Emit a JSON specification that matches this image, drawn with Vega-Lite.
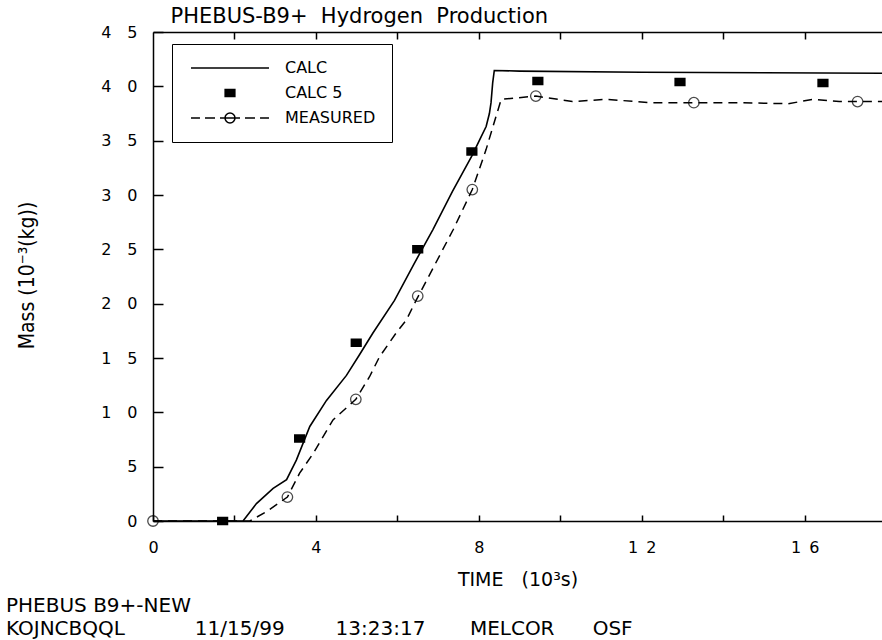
{
  "$schema": "https://vega.github.io/schema/vega-lite/v6.json",
  "width": 729,
  "height": 489,
  "autosize": {"type": "none"},
  "padding": {"left": 153, "top": 32, "right": 0, "bottom": 119},
  "background": "white",
  "config": {
    "view": {"stroke": null},
    "font": "DejaVu Sans",
    "axis": {"grid": false, "domainColor": "black", "domainWidth": 1.5, "tickColor": "black", "tickWidth": 1.5, "labelColor": "black", "titleColor": "black", "titleFontWeight": "normal", "labelFont": "DejaVu Sans", "titleFont": "DejaVu Sans"}
  },
  "title": {
    "text": ["PHEBUS B9+-NEW", "KOJNCBQQL\u00a0\u00a0\u00a0\u00a0\u00a0\u00a0\u00a0\u00a0\u00a0\u00a0\u00a011/15/99\u00a0\u00a0\u00a0\u00a0\u00a0\u00a0\u00a0\u00a013:23:17\u00a0\u00a0\u00a0\u00a0\u00a0\u00a0\u00a0MELCOR\u00a0\u00a0\u00a0\u00a0\u00a0\u00a0OSF"],
    "orient": "bottom", "anchor": "start", "frame": "bounds",
    "fontSize": 20, "fontWeight": "normal", "font": "DejaVu Sans", "color": "black",
    "lineHeight": 23, "offset": 7, "dx": -10
  },
  "datasets": {
    "curves": [
      {"series": "CALC", "x": 0, "y": 0},
      {"series": "CALC", "x": 2.21, "y": 0},
      {"series": "CALC", "x": 2.54, "y": 1.6},
      {"series": "CALC", "x": 2.95, "y": 3.0},
      {"series": "CALC", "x": 3.28, "y": 3.8},
      {"series": "CALC", "x": 3.52, "y": 5.6},
      {"series": "CALC", "x": 3.85, "y": 8.7},
      {"series": "CALC", "x": 4.26, "y": 11.1},
      {"series": "CALC", "x": 4.75, "y": 13.4},
      {"series": "CALC", "x": 5.07, "y": 15.3},
      {"series": "CALC", "x": 5.4, "y": 17.3},
      {"series": "CALC", "x": 5.93, "y": 20.3},
      {"series": "CALC", "x": 6.4, "y": 23.6},
      {"series": "CALC", "x": 6.87, "y": 26.8},
      {"series": "CALC", "x": 7.35, "y": 30.3},
      {"series": "CALC", "x": 7.83, "y": 33.6},
      {"series": "CALC", "x": 8.05, "y": 35.3},
      {"series": "CALC", "x": 8.18, "y": 36.3},
      {"series": "CALC", "x": 8.26, "y": 37.5},
      {"series": "CALC", "x": 8.3, "y": 38.5},
      {"series": "CALC", "x": 8.34, "y": 40.3},
      {"series": "CALC", "x": 8.38, "y": 41.46},
      {"series": "CALC", "x": 9.0, "y": 41.4},
      {"series": "CALC", "x": 12.0, "y": 41.3},
      {"series": "CALC", "x": 15.0, "y": 41.25},
      {"series": "CALC", "x": 17.9, "y": 41.2},
      {"series": "MEASURED", "x": 0, "y": 0},
      {"series": "MEASURED", "x": 2.38, "y": 0},
      {"series": "MEASURED", "x": 2.8, "y": 0.9},
      {"series": "MEASURED", "x": 3.3, "y": 2.2},
      {"series": "MEASURED", "x": 3.6, "y": 4.4},
      {"series": "MEASURED", "x": 3.93, "y": 6.2},
      {"series": "MEASURED", "x": 4.42, "y": 9.3},
      {"series": "MEASURED", "x": 4.98, "y": 11.2},
      {"series": "MEASURED", "x": 5.32, "y": 13.3},
      {"series": "MEASURED", "x": 5.56, "y": 15.1},
      {"series": "MEASURED", "x": 5.97, "y": 17.3},
      {"series": "MEASURED", "x": 6.22, "y": 18.5},
      {"series": "MEASURED", "x": 6.46, "y": 20.3},
      {"series": "MEASURED", "x": 7.37, "y": 26.8},
      {"series": "MEASURED", "x": 7.84, "y": 30.5},
      {"series": "MEASURED", "x": 8.18, "y": 34.2},
      {"series": "MEASURED", "x": 8.42, "y": 37.2},
      {"series": "MEASURED", "x": 8.55, "y": 38.8},
      {"series": "MEASURED", "x": 9.4, "y": 39.1},
      {"series": "MEASURED", "x": 10.3, "y": 38.6},
      {"series": "MEASURED", "x": 11.12, "y": 38.8},
      {"series": "MEASURED", "x": 11.5, "y": 38.7},
      {"series": "MEASURED", "x": 12.18, "y": 38.5},
      {"series": "MEASURED", "x": 13.28, "y": 38.5},
      {"series": "MEASURED", "x": 14.4, "y": 38.5},
      {"series": "MEASURED", "x": 15.6, "y": 38.4},
      {"series": "MEASURED", "x": 16.2, "y": 38.8},
      {"series": "MEASURED", "x": 16.85, "y": 38.6},
      {"series": "MEASURED", "x": 17.3, "y": 38.6},
      {"series": "MEASURED", "x": 17.9, "y": 38.6}
    ],
    "calc5": [
      {"series": "CALC 5", "x": 1.71, "y": 0},
      {"series": "CALC 5", "x": 3.6, "y": 7.6},
      {"series": "CALC 5", "x": 4.99, "y": 16.4},
      {"series": "CALC 5", "x": 6.5, "y": 25.0},
      {"series": "CALC 5", "x": 7.83, "y": 34.0},
      {"series": "CALC 5", "x": 9.45, "y": 40.5},
      {"series": "CALC 5", "x": 12.94, "y": 40.4},
      {"series": "CALC 5", "x": 16.45, "y": 40.3}
    ],
    "measuredPts": [
      {"series": "MEASURED", "x": 0, "y": 0},
      {"series": "MEASURED", "x": 3.3, "y": 2.2},
      {"series": "MEASURED", "x": 4.98, "y": 11.2},
      {"series": "MEASURED", "x": 6.5, "y": 20.7},
      {"series": "MEASURED", "x": 7.84, "y": 30.5},
      {"series": "MEASURED", "x": 9.4, "y": 39.1},
      {"series": "MEASURED", "x": 13.28, "y": 38.5},
      {"series": "MEASURED", "x": 17.3, "y": 38.6}
    ]
  },
  "resolve": {"axis": {"x": "independent"}},
  "layer": [
    {
      "data": {"name": "curves"},
      "transform": [{"filter": "datum.series == 'CALC'"}],
      "mark": {"type": "line", "color": "black", "strokeWidth": 1.6, "clip": true},
      "encoding": {
        "x": {"field": "x", "type": "quantitative", "scale": {"domain": [0, 17.9], "nice": false, "zero": false},
          "axis": {"orient": "bottom", "values": [0, 2, 4, 6, 8, 10, 12, 14, 16], "tickSize": -6, "labelPadding": 24, "labelFontSize": 16, "labelFlush": false,
            "labelExpr": "datum.value % 4 == 0 ? (datum.value >= 10 ? slice(datum.label, 0, 1) + '\u2002' + slice(datum.label, 1) + '\u2003' : datum.label) : ''",
            "title": "TIME\u00a0\u00a0\u00a0(10³s)", "titleFontSize": 19, "titlePadding": 15}},
        "y": {"field": "y", "type": "quantitative", "scale": {"domain": [0, 45], "nice": false},
          "axis": {"values": [0, 5, 10, 15, 20, 25, 30, 35, 40, 45], "tickSize": -10, "labelPadding": 26, "labelFontSize": 16,
            "labelExpr": "datum.value >= 10 ? slice(datum.label, 0, 1) + '\u2003' + slice(datum.label, 1) : datum.label",
            "title": "Mass (10⁻³(kg))", "titleFontSize": 21, "titleFont": "Liberation Sans Narrow, DejaVu Sans Condensed, DejaVu Sans", "titleX": -126, "titleY": 243, "titleAngle": -90, "titleAlign": "center", "titleBaseline": "middle"}}
      }
    },
    {
      "data": {"name": "curves"},
      "transform": [{"filter": "datum.series == 'MEASURED'"}],
      "mark": {"type": "line", "color": "black", "strokeWidth": 1.5, "strokeDash": [9, 6], "clip": true},
      "encoding": {
        "x": {"field": "x", "type": "quantitative",
          "axis": {"orient": "top", "values": [2, 4, 6, 8, 10, 12, 14, 16], "labels": false, "ticks": true, "tickSize": -7,
            "title": "PHEBUS-B9+\u00a0\u00a0Hydrogen\u00a0\u00a0Production", "titleFontSize": 21, "titleAnchor": "start", "titleAlign": "left", "titleBaseline": "alphabetic", "titleX": 17, "titleY": -10}},
        "y": {"field": "y", "type": "quantitative"}
      }
    },
    {
      "data": {"name": "calc5"},
      "mark": {"type": "point", "color": "black", "filled": false, "strokeWidth": 1.5, "size": 196, "opacity": 1},
      "encoding": {
        "x": {"field": "x", "type": "quantitative", "axis": null},
        "y": {"field": "y", "type": "quantitative"},
        "shape": {"field": "series", "type": "nominal",
          "scale": {"domain": ["CALC", "CALC 5", "MEASURED"],
            "range": ["M-5.57,0H5.57",
              "M-0.8,-0.5H0.8M-0.8,-0.3H0.8M-0.8,-0.1H0.8M-0.8,0.1H0.8M-0.8,0.3H0.8M-0.8,0.5H0.8",
              "M-5.57,0H-4.29M-3.57,0H-2.14M-1.43,0H1.43M2.14,0H3.57M4.29,0H5.57M0.71,0A0.71,0.71,0,1,1,-0.71,0A0.71,0.71,0,1,1,0.71,0"]},
          "legend": {"orient": "none", "legendX": 19, "legendY": 12, "title": null, "strokeColor": "black", "fillColor": "white", "padding": 16, "rowPadding": 9,
            "symbolOffset": 34, "labelOffset": 47, "symbolSize": 196, "symbolStrokeWidth": 1.5, "symbolStrokeColor": "black",
            "labelFontSize": 16, "labelFont": "DejaVu Sans", "labelColor": "black"}}
      }
    },
    {
      "data": {"name": "measuredPts"},
      "mark": {"type": "point", "shape": "circle", "color": "black", "filled": false, "strokeWidth": 1.3, "size": 110},
      "encoding": {
        "x": {"field": "x", "type": "quantitative", "axis": null},
        "y": {"field": "y", "type": "quantitative"}
      }
    }
  ]
}
